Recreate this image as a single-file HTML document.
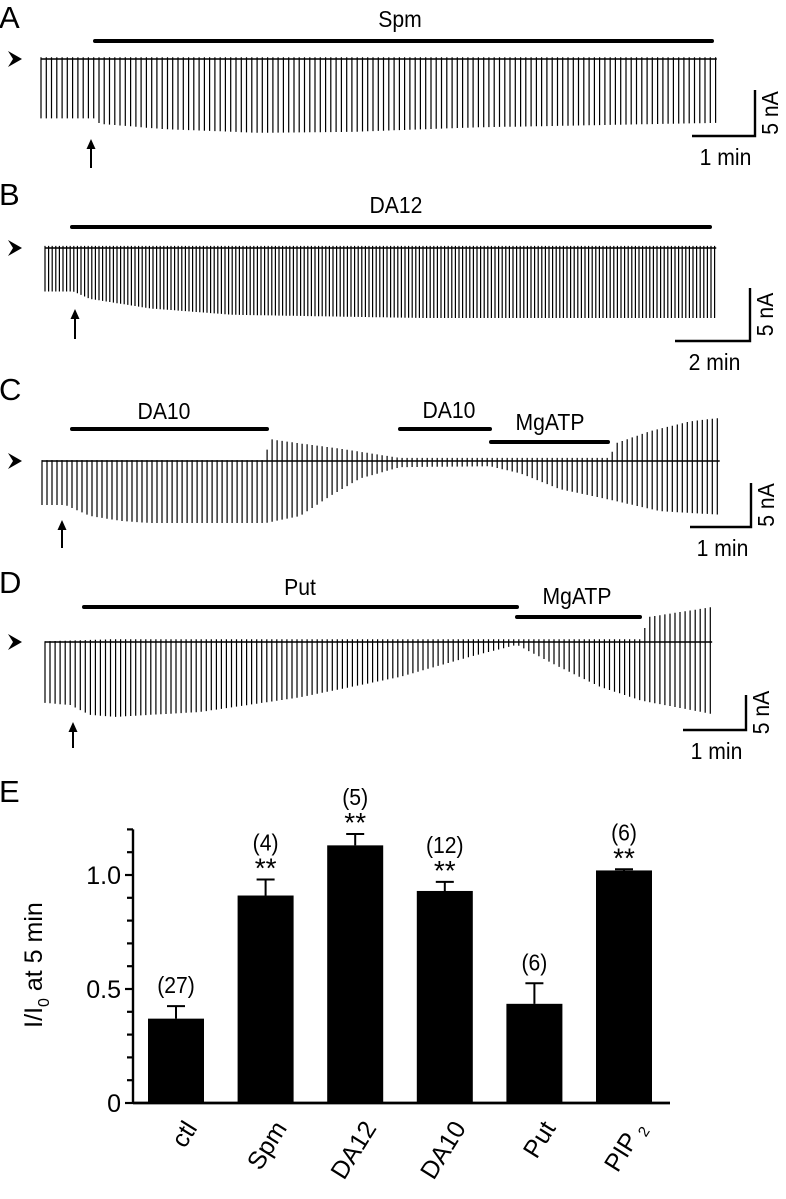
<!DOCTYPE html>
<html><head><meta charset="utf-8"><style>
html,body{margin:0;padding:0;background:#fff;}
svg{display:block;font-family:"Liberation Sans",Arial,sans-serif;}
</style></head><body>
<svg id="fig" width="786" height="1199" viewBox="0 0 786 1199" xmlns="http://www.w3.org/2000/svg">
<g id="traces"></g>
<g id="chart"></g>
</svg>
<script>
// ---- Trace envelopes (time in min, amplitude in nA) ----
const aTimes = [0, 0.85, 0.95, 2, 3.5, 5, 7, 10.9];
const aDown  = [6.6, 6.6, 7.2, 7.8, 8.2, 8.1, 7.6, 7.1];
const aUpT   = [0, 10.9];
const aUp    = [0.2, 0.2];

const bTimes = [0, 0.75, 1.2, 2.8, 5, 10, 17.9];
const bDown  = [4.1, 4.1, 4.8, 5.7, 6.3, 6.6, 6.6];
const bUpT   = [0, 17.9];
const bUp    = [0.2, 0.2];

const cTimes = [0, 0.38, 0.79, 1.28, 1.77, 3.66, 4.23, 4.72, 5.21, 5.87, 7.34, 7.84, 8.49, 9.31, 10.13, 11.11];
const cDown  = [5.0, 5.0, 6.25, 6.8, 7.05, 7.05, 6.25, 4.0, 2.0, 0.7, 0.6, 1.4, 3.2, 4.4, 5.7, 6.1];
const cUpT   = [0, 3.66, 3.72, 4.23, 4.89, 5.54, 5.87, 9.31, 9.4, 9.97, 10.62, 11.11];
const cUp    = [0.1, 0.1, 2.5, 2.0, 1.4, 0.7, 0.35, 0.35, 2.0, 3.4, 4.5, 4.9];

const dTimes = [0, 0.4, 0.71, 1.11, 2.46, 4.05, 5.63, 6.75, 7.49, 8.17, 8.81, 9.44, 9.6, 10.59];
const dDown  = [8.7, 9.0, 10.4, 10.7, 10.0, 7.9, 5.0, 2.1, 0.4, 3.6, 6.4, 8.3, 8.6, 10.3];
const dUpT   = [0, 1.11, 9.44, 9.6, 10.59];
const dUp    = [0.1, 0.4, 0.4, 3.6, 5.0];

// ---- Bar chart data ----
const categories = ["ctl", "Spm", "DA12", "DA10", "Put", "PIP"];
const means  = [0.37, 0.91, 1.13, 0.93, 0.435, 1.02];
const errs   = [0.055, 0.07, 0.05, 0.04, 0.09, 0.005];
const nLabels = ["(27)", "(4)", "(5)", "(12)", "(6)", "(6)"];
const sigLabels = ["", "**", "**", "**", "", "**"];
const yTicks = [0, 0.5, 1.0];
const yTickLabels = ["0", "0.5", "1.0"];

const NS = "http://www.w3.org/2000/svg";
function mk(tag, attrs, parent, txt){
  const e = document.createElementNS(NS, tag);
  for (const k in attrs) e.setAttribute(k, attrs[k]);
  if (txt !== undefined) e.textContent = txt;
  parent.appendChild(e);
  return e;
}
function interp(ts, vs, t){
  if (t <= ts[0]) return vs[0];
  for (let i = 1; i < ts.length; i++){
    if (t <= ts[i]) { const f = (t - ts[i-1]) / (ts[i] - ts[i-1]); return vs[i-1] + f * (vs[i] - vs[i-1]); }
  }
  return vs[vs.length - 1];
}

const traces = document.getElementById('traces');

function panel(p){
  const g = mk('g', {}, traces);
  
  
  const lt = mk('text', {x: -1, y: p.letterY, 'font-size': 31}, g, p.id);
  
  
  const xs = t => p.x0 + t * p.pxMin;
  const ys = v => p.base + v * p.pxNA;
  const tEnd = p.times[p.times.length - 1];
  const bl = mk('line', {x1: p.x0, x2: xs(tEnd), y1: p.base, y2: p.base, stroke: '#000', 'stroke-width': 1.6}, g);
  
  
  let d = '';
  for (let t = 0; t <= tEnd + 1e-6; t += p.period){
    const dn = interp(p.times, p.down, t);
    const up = interp(p.upT, p.up, t);
    const x = xs(t).toFixed(1);
    d += 'M' + x + ' ' + (p.base - up * p.pxNA).toFixed(1) + 'V' + ys(dn).toFixed(1);
  }
  const sw = mk('path', {d: d, stroke: '#000', 'stroke-width': 1.2, fill: 'none'}, g);
  
  
  const ah = mk('path', {d: `M8 ${p.base-8} L22 ${p.base} L8 ${p.base+8} L13 ${p.base} Z`, fill: '#000'}, g);
  
  
  p.bars.forEach(b => {
    const l = mk('line', {x1: b.x1, x2: b.x2, y1: b.y, y2: b.y, stroke: '#000', 'stroke-width': 4, 'stroke-linecap': 'round'}, g);
    
    
    const tx = mk('text', {x: b.tx, y: b.ty, 'font-size': 23, 'text-anchor': 'middle', transform: `translate(${b.tx},0) scale(0.92,1) translate(${-b.tx},0)`}, g, b.label);
    
    
  });
  if (p.arrowX){
    const ar = mk('g', {}, g);
    
    
    mk('line', {x1: p.arrowX, x2: p.arrowX, y1: p.arrowY1 + 4, y2: p.arrowY2, stroke: '#000', 'stroke-width': 2}, ar);
    mk('path', {d: `M${p.arrowX-4.5} ${p.arrowY1+10} L${p.arrowX} ${p.arrowY1} L${p.arrowX+4.5} ${p.arrowY1+10} Z`, fill: '#000'}, ar);
  }
  const sb = mk('g', {}, g);
  
  
  mk('path', {d: `M${p.sbX - p.sbW} ${p.sbY2} H${p.sbX} V${p.sbY1}`, stroke: '#000', 'stroke-width': 2.4, fill: 'none'}, sb);
  const tcx = p.sbX - p.sbW/2 + 2;
  mk('text', {x: tcx, y: p.sbY2 + 29, 'font-size': 23, 'text-anchor': 'middle', transform: `translate(${tcx},0) scale(0.92,1) translate(${-tcx},0)`}, sb, p.tLabel);
  mk('text', {transform: `translate(${p.sbX + 23},${(p.sbY1 + p.sbY2)/2}) rotate(-90) scale(0.92,1)`, 'font-size': 23, 'text-anchor': 'middle'}, sb, '5 nA');
}

panel({id:'A', letterY:28, x0:41, pxMin:62, pxNA:9, base:59, period:0.085,
  times:aTimes, down:aDown, upT:aUpT, up:aUp,
  bars:[{x1:95, x2:712, y:41, label:'Spm', tx:400, ty:27}],
  arrowX:91, arrowY1:139, arrowY2:168,
  sbX:755, sbW:63, sbY1:90, sbY2:136, tLabel:'1 min'});
panel({id:'B', letterY:205, x0:45, pxMin:37.5, pxNA:10.6, base:248, period:0.096,
  times:bTimes, down:bDown, upT:bUpT, up:bUp,
  bars:[{x1:72, x2:710, y:227, label:'DA12', tx:396, ty:213}],
  arrowX:75, arrowY1:309, arrowY2:339,
  sbX:750, sbW:75, sbY1:288, sbY2:341, tLabel:'2 min'});
panel({id:'C', letterY:400, x0:42, pxMin:61, pxNA:8.8, base:461, period:0.082,
  times:cTimes, down:cDown, upT:cUpT, up:cUp,
  bars:[{x1:72, x2:267, y:429, label:'DA10', tx:164, ty:419},
        {x1:400, x2:490, y:429, label:'DA10', tx:449, ty:418},
        {x1:491, x2:608, y:442, label:'MgATP', tx:550, ty:430}],
  arrowX:62, arrowY1:520, arrowY2:548,
  sbX:751, sbW:61, sbY1:483, sbY2:527, tLabel:'1 min'});
panel({id:'D', letterY:593, x0:45, pxMin:63, pxNA:7, base:642, period:0.08,
  times:dTimes, down:dDown, upT:dUpT, up:dUp,
  bars:[{x1:84, x2:517, y:607, label:'Put', tx:300, ty:595},
        {x1:517, x2:640, y:617, label:'MgATP', tx:577, ty:604}],
  arrowX:73, arrowY1:722, arrowY2:748,
  sbX:746, sbW:63, sbY1:695, sbY2:730, tLabel:'1 min'});

// ---- Bar chart E ----
const chart = document.getElementById('chart');
const X0 = 133, Y0 = 1103, PX = 228;
const yS = v => Y0 - v * PX;
const xS = i => 176 + i * 89.6;
const BW = 56;

const le = mk('text', {x: -1, y: 802, 'font-size': 31}, chart, 'E');



const ax = mk('g', {}, chart);


mk('line', {x1: X0, x2: X0, y1: yS(1.2), y2: Y0, stroke: '#000', 'stroke-width': 2.4}, ax);
for (let k = 0; k <= 12; k++){
  const major = k % 5 === 0;
  mk('line', {x1: X0 - (major ? 8 : 6), x2: X0, y1: yS(k/10), y2: yS(k/10), stroke: '#000', 'stroke-width': 2.2}, ax);
}
yTicks.forEach((v, i) => {
  const t = mk('text', {x: X0 - 12, y: yS(v) + 9, 'font-size': 25, 'text-anchor': 'end'}, ax, yTickLabels[i]);
  
  
});
const yt = mk('text', {transform: `translate(42,965) rotate(-90)`, 'font-size': 25, 'text-anchor': 'middle'}, chart);


yt.innerHTML = 'I/I<tspan font-size="16" dy="7">0</tspan><tspan dy="-7"> at 5 min</tspan>';

const xa = mk('line', {x1: X0, x2: 670, y1: Y0, y2: Y0, stroke: '#000', 'stroke-width': 2.8}, chart);



categories.forEach((c, i) => {
  const cx = xS(i);
  const bar = mk('rect', {x: cx - BW/2, y: yS(means[i]), width: BW, height: Y0 - yS(means[i]), fill: '#000'}, chart);
  
  
  const top = yS(means[i] + errs[i]);
  const eb = mk('path', {d: `M${cx} ${yS(means[i])} V${top} M${cx-9} ${top} H${cx+9}`, stroke: '#000', 'stroke-width': 2, fill: 'none'}, chart);
  
  
  let ny = top - 13;
  if (sigLabels[i]){
    const s = mk('text', {x: cx, y: top - 2, 'font-size': 28, 'text-anchor': 'middle'}, chart, sigLabels[i]);
    
    
    ny = top - 29;
  }
  const n = mk('text', {x: cx, y: ny, 'font-size': 23, 'text-anchor': 'middle', transform: `translate(${cx},0) scale(0.92,1) translate(${-cx},0)`}, chart, nLabels[i]);
  
  
  const xl = mk('text', {transform: `translate(${cx + 22},1128) rotate(-58)`, 'font-size': 25, 'text-anchor': 'end'}, chart);
  
  
  xl.innerHTML = c === 'PIP' ? 'PIP<tspan font-size="15" dx="5" dy="5">2</tspan>' : c;
});
</script>
</body></html>
